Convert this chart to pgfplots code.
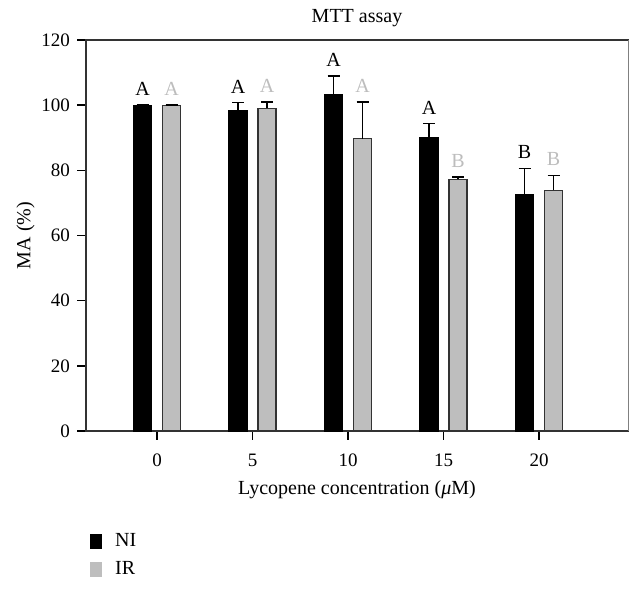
\documentclass[border=0pt]{standalone}
\usepackage{fontspec}
\setmainfont{Liberation Serif}
\usepackage{pgfplots}
\usepackage{pgfplotstable}
\pgfplotsset{compat=1.18}

\definecolor{irgray}{HTML}{BEBEBE}
\definecolor{lettergray}{HTML}{BDBDBD}
\definecolor{axisdark}{HTML}{333333}

% x  mean  err  top  letter
\pgfplotstableread{
x  y      err   top    lab
0  100.0  0.0   100.0  A
5  98.2   2.6   100.8  A
10 103.1  5.8   108.9  A
15 90.0   4.4   94.4   A
20 72.6   8.0   80.6   B
}\ni

\pgfplotstableread{
x  y      err   top    lab
0  100.0  0.0   100.0  A
5  99.0   2.0   101.0  A
10 89.7   11.3  101.0  A
15 77.2   0.8   78.0   B
20 73.9   4.6   78.5   B
}\ir

\begin{document}
\begin{tikzpicture}
\begin{axis}[
  scale only axis,
  width=271pt, height=195.5pt,
  xmin=-3.72, xmax=24.66,
  ymin=0, ymax=120,
  xtick={0,5,10,15,20},
  ytick={0,20,...,120},
  xtick pos=bottom, ytick pos=left,
  tick align=outside,
  major tick length=4.5pt,
  tick style={black, line width=0.7pt},
  axis line style={axisdark, line width=0.8pt},
  tick label style={font=\fontsize{9.5}{11}\selectfont},
  xticklabel style={yshift=-3.5pt},
  /pgf/number format/assume math mode=true,
  title={MTT assay},
  title style={font=\fontsize{10}{12}\selectfont, yshift=-3pt},
  xlabel={Lycopene concentration (\textit{μ}M)},
  ylabel={MA (\%)},
  ylabel shift=-3.5pt,
  label style={font=\fontsize{10}{12}\selectfont},
  clip=false,
  bar width=9pt,
  legend style={at={(-0.004,-0.241)}, anchor=north west, draw=none, fill=none,
    font=\fontsize{10}{12}\selectfont, row sep=2pt,
    cells={anchor=west}},
  legend image code/.code={\fill[#1,draw=none] (0pt,-3.75pt) rectangle (6pt,3.75pt);},
]
\addplot[ybar, bar shift=0pt, xshift=-7.25pt, fill=black, draw=black, line width=0.6pt,
  forget plot,
  error bars/.cd, y dir=plus, y explicit,
  error bar style={black, line width=0.7pt},
  error mark options={rotate=90, mark size=3pt, black, line width=0.7pt}]
  table[x=x, y=y, y error=err] {\ni};
\addplot[ybar, bar shift=0pt, xshift=7.25pt, fill=irgray, draw=axisdark, line width=0.6pt,
  forget plot,
  error bars/.cd, y dir=plus, y explicit,
  error bar style={black, line width=0.7pt},
  error mark options={rotate=90, mark size=3pt, black, line width=0.7pt}]
  table[x=x, y=y, y error=err] {\ir};

% significance letters
\addplot[ybar, bar shift=0pt, xshift=-7.25pt, draw=none, fill=none, forget plot,
  point meta=explicit symbolic, nodes near coords,
  nodes near coords style={black, anchor=south, inner sep=0pt, yshift=4.5pt,
    font=\fontsize{10}{12}\selectfont}]
  table[x=x, y=top, meta=lab] {\ni};
\addplot[ybar, bar shift=0pt, xshift=7.25pt, draw=none, fill=none, forget plot,
  point meta=explicit symbolic, nodes near coords,
  nodes near coords style={lettergray, anchor=south, inner sep=0pt, yshift=4.5pt,
    font=\fontsize{10}{12}\selectfont}]
  table[x=x, y=top, meta=lab] {\ir};

\addlegendimage{fill=black}
\addlegendentry{\hspace{4.5pt}NI}
\addlegendimage{fill=irgray}
\addlegendentry{\hspace{4.5pt}IR}

% lighter right frame line, as in the original
\draw[white, line width=1pt] (rel axis cs:1,0.002) -- (rel axis cs:1,0.998);
\draw[gray, line width=0.5pt] (rel axis cs:1,0) -- (rel axis cs:1,1);

\path (rel axis cs:-0.1587,-0.4041) rectangle (rel axis cs:1.0277,1.1023);
\end{axis}
\end{tikzpicture}
\end{document}
